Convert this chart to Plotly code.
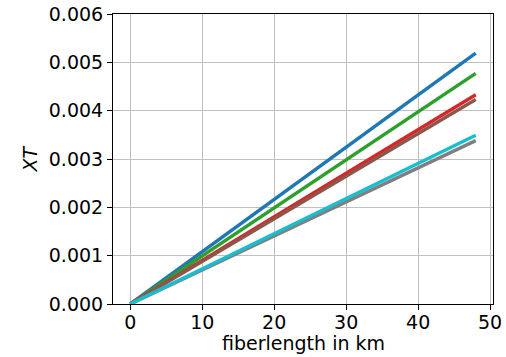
import plotly.graph_objects as go

# Fiber length span (km) and crosstalk at each end for six configurations
fiber_km = [0, 48]
xt_blue = [0.0, 0.00519]
xt_green = [0.0, 0.00477]
xt_red = [0.0, 0.00433]
xt_brown = [0.0, 0.00423]
xt_gray = [0.0, 0.00338]
xt_cyan = [0.0, 0.00349]

series = [
    (xt_blue, "#1f77b4"),
    (xt_green, "#2ca02c"),
    (xt_red, "#d62728"),
    (xt_brown, "#8c564b"),
    (xt_gray, "#7f7f7f"),
    (xt_cyan, "#17becf"),
]

fig = go.Figure()
for ys, color in series:
    fig.add_trace(go.Scatter(x=fiber_km, y=ys, mode="lines",
                             line=dict(color=color, width=3.4),
                             showlegend=False))

font = dict(family="DejaVu Sans", size=19, color="black")
axis_common = dict(showline=True, linecolor="black", linewidth=1, mirror=True,
                   ticks="outside", ticklen=5, tickcolor="black",
                   showgrid=True, gridcolor="#c0c0c0", gridwidth=1,
                   zeroline=False, tickfont=font, automargin=False)

fig.update_layout(
    width=506, height=357,
    margin=dict(l=113, r=13, t=14, b=53),
    plot_bgcolor="white", paper_bgcolor="white",
    font=font,
    xaxis=dict(range=[-2.4, 50.4], tickvals=[0, 10, 20, 30, 40, 50],
               ticklabelstandoff=-4, **axis_common),
    yaxis=dict(range=[0, 0.006], tickvals=[0, 0.001, 0.002, 0.003, 0.004, 0.005, 0.006],
               tickformat=".3f", **axis_common),
    annotations=[
        dict(text="fiberlength in km", xref="paper", yref="paper", x=0.5, y=-0.136,
             xanchor="center", yanchor="middle", showarrow=False, font=font),
        dict(text="<i>XT</i>", xref="paper", yref="paper", x=-0.2197, y=0.5,
             xanchor="center", yanchor="middle", textangle=-90, showarrow=False, font=font),
    ],
)

fig.write_html("out.html")
